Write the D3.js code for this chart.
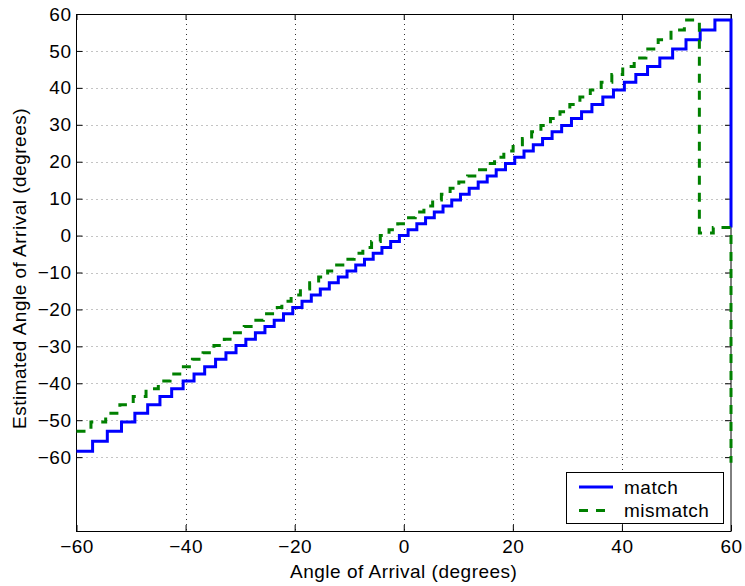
<!DOCTYPE html>
<html>
<head>
<meta charset="utf-8">
<script src="https://cdn.jsdelivr.net/npm/d3@7"></script>
<style>
  body { margin: 0; background: #fff; }
  text { font-family: "Liberation Sans", Arial, Helvetica, sans-serif; }
</style>
</head>
<body>
<div id="chart"></div>
<script>
// tick values
var xTicks = [-60, -40, -20, 0, 20, 40, 60];
var yTicks = [-60, -50, -40, -30, -20, -10, 0, 10, 20, 30, 40, 50, 60];

// "match": x where each step ends, and the level of each step
var matchStepX = [-57.05, -54.35, -51.75, -49.3, -46.95, -44.7, -42.55, -40.45, -38.45, -36.5,
  -34.5, -32.6, -30.75, -28.95, -27.2, -25.45, -23.75, -22.05, -20.35, -18.65,
  -16.95, -15.3, -13.65, -12.0, -10.4, -8.8, -7.2, -5.6, -4.0, -2.4, -0.8,
  0.8, 2.4, 4.0, 5.6, 7.2, 8.8, 10.4, 12.0, 13.65, 15.3, 16.95, 18.65, 20.35,
  22.05, 23.75, 25.45, 27.2, 28.95, 30.75, 32.6, 34.5, 36.5, 38.45, 40.45,
  42.55, 44.7, 46.95, 49.3, 51.75, 54.35, 57.05];
var matchLevels = [-58.4, -55.7, -53.0, -50.5, -48.1, -45.8, -43.6, -41.5, -39.4, -37.5,
  -35.5, -33.5, -31.7, -29.8, -28.1, -26.3, -24.6, -22.9, -21.2, -19.5,
  -17.8, -16.1, -14.5, -12.8, -11.2, -9.6, -8.0, -6.4, -4.8, -3.2, -1.6,
  0.0, 1.6, 3.2, 4.8, 6.4, 8.0, 9.6, 11.2, 12.8, 14.5, 16.1, 17.8, 19.5,
  21.2, 22.9, 24.6, 26.3, 28.1, 29.8, 31.7, 33.5, 35.5, 37.5, 39.4,
  41.5, 43.6, 45.8, 48.1, 50.5, 53.0, 55.7, 58.4];
var matchEnd = 2.2;

// "mismatch"
var mismatchStepX = [-57.35, -54.65, -52.05, -49.6, -47.25, -45.0, -42.85, -40.75, -38.75, -36.8,
  -34.8, -32.9, -31.05, -29.25, -27.5, -25.75, -24.05, -22.35, -20.65, -18.95,
  -17.25, -15.6, -13.95, -12.3, -10.7, -9.1, -7.5, -5.9, -4.3, -2.7, -1.1,
  0.5, 2.1, 3.7, 5.3, 6.9, 8.5, 10.1, 11.7, 13.35, 15.0, 16.65, 18.35, 20.05,
  21.75, 23.45, 25.15, 26.9, 28.65, 30.45, 32.3, 34.2, 36.2, 38.15, 40.15,
  42.25, 44.4, 46.65, 49.0, 51.45, 54.2, 56.75];
var mismatchLevels = [-53.0, -50.5, -48.1, -45.8, -43.6, -41.5, -39.4, -37.5,
  -35.5, -33.5, -31.7, -29.8, -28.1, -26.3, -24.6, -22.9, -21.2, -19.5,
  -17.8, -16.1, -14.5, -12.8, -11.2, -9.6, -8.0, -6.4, -4.8, -3.2, -1.6,
  0.0, 1.6, 3.2, 4.8, 6.4, 8.0, 9.6, 11.2, 12.8, 14.5, 16.1, 17.8, 19.5,
  21.2, 22.9, 24.6, 26.3, 28.1, 29.8, 31.7, 33.5, 35.5, 37.5, 39.4,
  41.5, 43.6, 45.8, 48.1, 50.5, 53.0, 55.7, 58.4, 0.7, 2.2];
var mismatchEnd = -61.5;

var svgWidth = 745, svgHeight = 586,
    x = d3.scaleLinear([-60, 60], [76.5, 731]),
    y = d3.scaleLinear([-80, 60], [531, 14]),
    fontSize = 19;

var svg = d3.select("#chart").append("svg")
    .attr("width", svgWidth)
    .attr("height", svgHeight)
    .style("background", "#fff");

// dotted grid (vertical dots come out darker in the original)
var grid = svg.append("g")
    .attr("stroke-width", 1)
    .attr("stroke-dasharray", "1,4");
grid.selectAll("line.gx").data(xTicks.slice(1, -1)).join("line")
    .classed("gx", true)
    .attr("stroke", "#333")
    .attr("x1", d => Math.round(x(d)) + 0.5).attr("x2", d => Math.round(x(d)) + 0.5)
    .attr("y1", y(60)).attr("y2", y(-80));
grid.selectAll("line.gy").data(yTicks.slice(0, -1)).join("line")
    .classed("gy", true)
    .attr("stroke", "#888")
    .attr("x1", x(-60)).attr("x2", x(60))
    .attr("y1", d => Math.round(y(d)) + 0.5).attr("y2", d => Math.round(y(d)) + 0.5);

// axes, ticks pointing inwards
function styleAxis(g) {
  g.select(".domain").remove();
  g.attr("font-size", fontSize)
   .attr("font-family", '"Liberation Sans", Arial, sans-serif')
   .style("letter-spacing", "0.5px");
  g.selectAll("text").attr("fill", "#000");
}
svg.append("g")
    .attr("transform", "translate(0," + y(-80) + ")")
    .call(d3.axisBottom(x).tickValues(xTicks).tickSize(-6).tickPadding(9))
    .call(styleAxis);
svg.append("g")
    .attr("transform", "translate(0," + y(60) + ")")
    .call(d3.axisTop(x).tickValues(xTicks).tickSize(-6).tickFormat(""))
    .call(styleAxis);
svg.append("g")
    .attr("transform", "translate(" + x(-60) + ",0)")
    .call(d3.axisLeft(y).tickValues(yTicks).tickSize(-6).tickPadding(5))
    .call(styleAxis);
svg.append("g")
    .attr("transform", "translate(" + x(60) + ",0)")
    .call(d3.axisRight(y).tickValues(yTicks).tickSize(-6).tickFormat(""))
    .call(styleAxis);

svg.append("rect")
    .attr("x", x(-60)).attr("y", y(60) + 0.5)
    .attr("width", x(60) - x(-60)).attr("height", y(-80) - y(60))
    .attr("fill", "none").attr("stroke", "#000").attr("stroke-width", 1);

// staircase lines
function stairPoints(stepX, levels, endValue) {
  var pts = [[-60, levels[0]]];
  stepX.forEach(function(sx, i) { pts.push([sx, levels[i + 1]]); });
  pts.push([60, endValue]);
  return pts;
}
var line = d3.line()
    .x(d => x(d[0]))
    .y(d => y(d[1]))
    .curve(d3.curveStepAfter);

svg.append("path")
    .attr("d", line(stairPoints(matchStepX, matchLevels, matchEnd)))
    .attr("fill", "none")
    .attr("stroke", "#0000ff")
    .attr("stroke-width", 3)
    .attr("stroke-linejoin", "miter");

svg.append("path")
    .attr("d", line(stairPoints(mismatchStepX, mismatchLevels, mismatchEnd)))
    .attr("fill", "none")
    .attr("stroke", "#008000")
    .attr("stroke-width", 3)
    .attr("stroke-dasharray", "9,8")
    .attr("stroke-linejoin", "miter");

// axis labels
svg.append("text")
    .attr("x", (x(-60) + x(60)) / 2)
    .attr("y", 578)
    .attr("text-anchor", "middle")
    .attr("font-size", fontSize)
    .style("letter-spacing", "0.5px")
    .text("Angle of Arrival (degrees)");
svg.append("text")
    .attr("transform", "translate(26," + ((y(60) + y(-80)) / 2 - 4) + ") rotate(-90)")
    .attr("text-anchor", "middle")
    .attr("font-size", fontSize)
    .style("letter-spacing", "0.5px")
    .text("Estimated Angle of Arrival (degrees)");

// legend
var legendItems = [
  {name: "match", color: "#0000ff", dash: null},
  {name: "mismatch", color: "#008000", dash: "9,8"}
];
var legend = svg.append("g");
legend.append("rect")
    .attr("x", 566.5).attr("y", 472.5)
    .attr("width", 157).attr("height", 51)
    .attr("fill", "#fff").attr("stroke", "#000");
var rows = legend.selectAll("g.item").data(legendItems).join("g")
    .classed("item", true)
    .attr("transform", (d, i) => "translate(0," + (487 + i * 23.5) + ")");
rows.append("line")
    .attr("x1", 579).attr("x2", 613)
    .attr("stroke", d => d.color)
    .attr("stroke-width", 3)
    .attr("stroke-dasharray", d => d.dash);
rows.append("text")
    .attr("x", 624)
    .attr("dy", "0.35em")
    .attr("font-size", fontSize)
    .style("letter-spacing", "0.5px")
    .text(d => d.name);
</script>
</body>
</html>
